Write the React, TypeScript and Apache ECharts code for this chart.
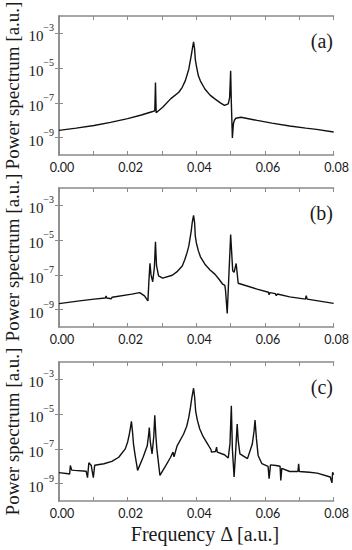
import React, { useEffect, useRef } from "react";
import * as echarts from "echarts";

// Frequency Δ [a.u.], power spectrum [a.u.]
const panelA: [number, number][] = [
  [0, 2.6e-9], [0.005, 3.5e-9], [0.0102, 5.0e-9], [0.015, 7.6e-9], [0.02, 1.23e-8],
  [0.024, 2.0e-8], [0.0273, 3.2e-8], [0.0279, 3.5e-8],
  [0.0281, 1.5e-6], [0.0283, 2.7e-8], [0.0302, 5.6e-8], [0.0325, 1.7e-7], [0.0349, 4.1e-7],
  [0.0359, 7.9e-7], [0.0368, 1.9e-6], [0.0378, 8.7e-6], [0.0385, 5.0e-5], [0.0389, 1.5e-4],
  [0.0392, 3.2e-4], [0.0395, 1.26e-4], [0.0397, 3.2e-5], [0.04, 1.4e-5], [0.0406, 3.6e-6],
  [0.0412, 1.8e-6], [0.0425, 6.3e-7], [0.044, 2.8e-7],
  [0.0454, 1.7e-7], [0.047, 1.0e-7], [0.0482, 7.1e-8], [0.0493, 8.7e-8], [0.0497, 2.0e-7], [0.05, 7.1e-6],
  [0.0502, 1.0e-7], [0.0505, 9.5e-10], [0.0508, 6.3e-9], [0.0511, 1.0e-8], [0.0515, 1.3e-8], [0.053, 1.5e-8],
  [0.0577, 9.8e-9], [0.062, 6.8e-9], [0.0672, 4.7e-9], [0.0719, 3.5e-9], [0.075, 3.0e-9], [0.08, 2.1e-9],
];

const panelB: [number, number][] = [
  [0, 2.2e-9], [0.006, 3.2e-9], [0.0102, 4.0e-9], [0.0135, 4.7e-9], [0.0137, 6.0e-9],
  [0.0139, 4.7e-9], [0.0152, 4.2e-9], [0.0155, 5.2e-9], [0.0212, 7.8e-9], [0.0235, 9.5e-9],
  [0.0249, 6.2e-9], [0.0259, 3.2e-9], [0.0262, 5.0e-8], [0.0265, 4.7e-7], [0.0268, 1.0e-7],
  [0.0273, 4.0e-8], [0.0278, 3.0e-7], [0.0281, 8.1e-6], [0.0284, 3.5e-7],
  [0.029, 8.7e-8], [0.0302, 6.5e-8], [0.033, 9.5e-8], [0.0345, 1.6e-7], [0.0359, 3.2e-7],
  [0.0366, 7.1e-7], [0.0373, 1.9e-6], [0.0378, 4.5e-6],
  [0.0382, 1.4e-5], [0.0385, 3.2e-5], [0.0388, 1.0e-4], [0.0392, 2.7e-4], [0.0395, 1.0e-4], [0.0397, 1.7e-5],
  [0.04, 7.1e-6], [0.0406, 2.4e-6], [0.0412, 1.1e-6], [0.0425, 4.1e-7], [0.044, 1.9e-7],
  [0.0454, 1.1e-7], [0.0465, 6.0e-8], [0.0477, 2.9e-8], [0.0483, 2.5e-8],
  [0.0485, 1.3e-8], [0.049, 6.0e-10], [0.05, 2.1e-5], [0.0506, 1.7e-7], [0.051, 1.4e-7],
  [0.0516, 4.5e-7], [0.0522, 3.3e-8], [0.0577, 1.5e-8], [0.061, 1.0e-8], [0.0612, 7.1e-9],
  [0.0614, 9.5e-9], [0.063, 8.3e-9], [0.0633, 6.3e-9], [0.0636, 7.9e-9], [0.0672, 5.4e-9],
  [0.0718, 4.0e-9], [0.072, 6.3e-9], [0.0723, 4.0e-9], [0.08, 2.3e-9],
];

const panelC: [number, number][] = [
  [0, 4.3e-9], [0.0027, 3.7e-9], [0.0031, 3.5e-9], [0.0033, 1.1e-8], [0.0037, 6.0e-9],
  [0.0046, 5.8e-9], [0.0079, 5.2e-9], [0.0083, 2.2e-9], [0.0087, 1.6e-8], [0.0094, 1.1e-8],
  [0.01, 2.2e-9], [0.0104, 1.15e-8], [0.0131, 1.4e-8], [0.0154, 1.9e-8], [0.0174, 3.3e-8],
  [0.0193, 1.0e-7], [0.02, 2.5e-7], [0.0205, 7.2e-7], [0.0208, 1.6e-6], [0.0211, 3.8e-6],
  [0.0214, 1.0e-6], [0.0217, 1.9e-7], [0.0222, 4.0e-8], [0.0229, 5.8e-9],
  [0.0245, 3.3e-8], [0.0257, 1.5e-7], [0.0261, 6.3e-7], [0.0263, 1.7e-6], [0.0266, 2.5e-7],
  [0.0271, 5.1e-8], [0.0276, 5.0e-7], [0.0279, 8.7e-6], [0.0282, 6.3e-7],
  [0.0285, 1.0e-7], [0.0294, 3.0e-9], [0.0311, 1.1e-8], [0.0325, 3.3e-8], [0.0332, 6.5e-8],
  [0.0335, 3.5e-8], [0.0344, 1.5e-7], [0.0363, 7.2e-7], [0.0372, 2.0e-6], [0.0378, 6.5e-6],
  [0.0383, 2.5e-5], [0.0387, 8.9e-5],
  [0.0392, 3.1e-4], [0.0395, 1.0e-4], [0.0398, 1.5e-5], [0.0403, 4.5e-6], [0.041, 1.4e-6],
  [0.042, 5.0e-7], [0.043, 2.4e-7],
  [0.0443, 8.9e-8], [0.0444, 6.5e-8], [0.0456, 7.1e-8], [0.0459, 1.26e-7], [0.0461, 6.5e-8],
  [0.0482, 4.6e-8], [0.0493, 3.0e-8], [0.0498, 2.0e-7], [0.0502, 3.0e-5], [0.0505, 1.0e-7],
  [0.051, 2.4e-9], [0.0515, 1.0e-7], [0.0519, 2.7e-6], [0.0522, 3.0e-7],
  [0.0527, 5.1e-8], [0.0549, 2.75e-8], [0.0563, 1.9e-7], [0.0568, 1.0e-6], [0.0571, 4.6e-6],
  [0.0575, 4.0e-7], [0.058, 4.2e-8],
  [0.0591, 1.4e-8], [0.0609, 9.8e-9], [0.0612, 1.9e-9], [0.0616, 1.2e-8], [0.0632, 1.1e-8],
  [0.0644, 1.0e-8], [0.0646, 1.5e-9], [0.0649, 7.6e-9], [0.0672, 5.0e-9], [0.0696, 5.0e-9],
  [0.0698, 1.4e-8], [0.07, 5.0e-9], [0.0729, 4.5e-9], [0.0752, 4.0e-9], [0.079, 2.4e-9],
  [0.0795, 1.1e-9], [0.0797, 4.5e-9], [0.08, 3.2e-9],
];

const panels = [panelA, panelB, panelC];
const panelLabels = ["(a)", "(b)", "(c)"];
const yTickValues = [1e-9, 1e-7, 1e-5, 1e-3];
const xMin = 0;
const xMax = 0.08;
const xStep = 0.01;
const yMin = 1e-10;
const yMax = 1e-2;
const yAxisTitle = "Power spectrum [a.u.]";
const xAxisTitle = "Frequency Δ [a.u.]";

const SERIF = "'Liberation Serif', 'Times New Roman', serif";
const SANS = "Lato, 'Open Sans', sans-serif";
const AXIS_COLOR = "#8a8a8a";
const TEXT_COLOR = "#1a1a1a";

const gridTops = [16, 188, 362];
const gridHeight = 139;

export default function App() {
  const ref = useRef<HTMLDivElement>(null);

  useEffect(() => {
    if (!ref.current) return;
    const chart = echarts.init(ref.current, undefined, { renderer: "svg" });

    const axisLine = { show: true, lineStyle: { color: AXIS_COLOR, width: 1.5 } };
    const tickStyle = { color: AXIS_COLOR, width: 1 };

    const grids: any[] = [];
    const xAxes: any[] = [];
    const yAxes: any[] = [];
    const series: any[] = [];
    const graphics: any[] = [];

    panels.forEach((data, i) => {
      grids.push({ left: 59, right: 12, top: gridTops[i], height: gridHeight });
      xAxes.push({
        type: "value", gridIndex: i, min: xMin, max: xMax, interval: xStep, position: "bottom",
        axisLine, splitLine: { show: false },
        axisTick: { show: true, inside: true, length: 4, lineStyle: tickStyle },
        axisLabel: {
          show: true, margin: 6, fontFamily: SANS, fontSize: 12.5, color: TEXT_COLOR,
          padding: [0, 0, 0, 6],
          formatter: (v: number) => (Math.round(v * 100) % 2 === 0 ? v.toFixed(2) : ""),
        },
      });
      xAxes.push({
        type: "value", gridIndex: i, min: xMin, max: xMax, interval: xStep, position: "top",
        axisLine, splitLine: { show: false },
        axisTick: { show: true, inside: true, length: 4, lineStyle: tickStyle },
        axisLabel: { show: false },
      });
      const labelFormatter = (v: number) => {
        const e = Math.round(Math.log10(v));
        return `{b|10}{s|−${Math.abs(e)}}`;
      };
      yAxes.push({
        type: "log", logBase: 10, gridIndex: i, min: yMin, max: yMax, position: "left",
        axisLine, splitLine: { show: false }, minorTick: { show: false },
        axisTick: { show: true, inside: true, length: 4, lineStyle: tickStyle, customValues: yTickValues },
        axisLabel: {
          show: true, margin: 5, customValues: yTickValues, formatter: labelFormatter,
          rich: {
            b: { fontFamily: SERIF, fontSize: 15, color: TEXT_COLOR, padding: [6, 0, 0, 0] },
            s: { fontFamily: SERIF, fontSize: 10, color: TEXT_COLOR, verticalAlign: "top" },
          },
        },
      });
      yAxes.push({
        type: "log", logBase: 10, gridIndex: i, min: yMin, max: yMax, position: "right",
        axisLine, splitLine: { show: false }, minorTick: { show: false },
        axisTick: { show: true, inside: true, length: 4, lineStyle: tickStyle, customValues: yTickValues },
        axisLabel: { show: false },
      });
      series.push({
        type: "line", xAxisIndex: i * 2, yAxisIndex: i * 2, data, showSymbol: false,
        symbol: "none", lineStyle: { color: "#111", width: 1.4 }, z: 5,
      });
      graphics.push({
        type: "text", x: 12.5, y: gridTops[i] + gridHeight / 2, rotation: Math.PI / 2,
        style: {
          text: yAxisTitle, fontFamily: SERIF, fontSize: 19, fill: TEXT_COLOR,
          textAlign: "center", textVerticalAlign: "middle",
        },
      });
      graphics.push({
        type: "text", x: 333, y: gridTops[i] + 24.5,
        style: {
          text: panelLabels[i], fontFamily: SERIF, fontSize: 20, fill: TEXT_COLOR,
          textAlign: "right", textVerticalAlign: "middle",
        },
      });
    });

    graphics.push({
      type: "text", x: 205, y: 534,
      style: {
        text: xAxisTitle, fontFamily: SERIF, fontSize: 20, fill: TEXT_COLOR,
        textAlign: "center", textVerticalAlign: "middle",
      },
    });

    chart.setOption({
      animation: false,
      backgroundColor: "#ffffff",
      grid: grids,
      xAxis: xAxes,
      yAxis: yAxes,
      series,
      graphic: graphics,
    });

    return () => chart.dispose();
  }, []);

  return (
    <div
      ref={ref}
      style={{ position: "absolute", left: 0, top: 0, width: 352, height: 550 }}
    />
  );
}
